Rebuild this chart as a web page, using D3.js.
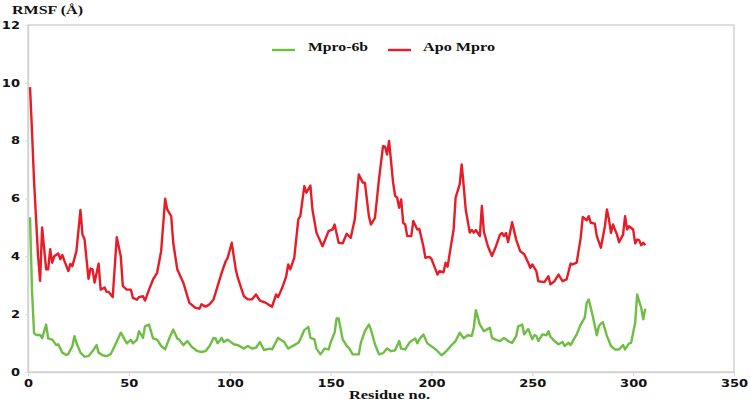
<!DOCTYPE html>
<html>
<head>
<meta charset="utf-8">
<script src="https://cdn.jsdelivr.net/npm/d3@7"></script>
<style>
  body { margin: 0; background: #fff; }
  svg { display: block; }
</style>
</head>
<body>
<div id="chart"></div>
<script>
// RMSF per residue, Apo Mpro vs Mpro-6b
const width = 750;
const height = 403;

const xTicks = [0, 50, 100, 150, 200, 250, 300, 350];
const yTicks = [0, 2, 4, 6, 8, 10, 12];

const seriesNames = ["Mpro-6b", "Apo Mpro"];

const apoResidue = [1,2,3,4,5,6,7,9,10,11,12,13,15,16,17,18,20,21,22,24,26,27,28,30,31,32,33,35,36,38,39,40,42,44,46,47,49,51,52,54,55,57,58,60,62,64,66,68,69,71,72,74,77,80,83,85,86,88,90,92,94,96,98,99,101,103,104,107,109,111,113,115,118,119,121,123,124,126,128,129,130,132,134,135,137,138,140,141,143,146,149,151,152,154,156,158,160,162,164,166,167,169,170,172,174,176,177,178,179,181,182,183,184,185,186,187,188,190,191,193,194,196,197,199,200,202,203,204,206,207,208,209,211,212,214,215,216,217,219,220,221,222,224,225,226,228,230,232,234,235,236,237,238,240,242,244,246,248,249,250,252,253,256,258,259,261,263,265,267,269,270,272,274,275,277,278,279,281,282,284,286,287,288,289,290,292,293,295,296,297,298,300,301,302,303,304,305,306];
const apoRmsf = [9.85,8.3,6.6,5.3,4.0,3.15,5.0,3.55,3.55,4.25,3.78,4.0,4.1,3.9,4.05,3.85,3.49,3.74,3.66,4.18,5.6,4.75,4.6,3.22,3.58,3.55,3.09,3.75,2.85,2.92,2.77,2.77,2.59,4.66,4.0,2.97,2.85,2.85,2.56,2.5,2.59,2.62,2.47,2.85,3.2,3.43,4.18,5.99,5.62,5.39,4.47,3.55,3.09,2.39,2.22,2.19,2.34,2.26,2.34,2.51,2.97,3.43,3.83,3.95,4.47,3.55,3.26,2.62,2.51,2.51,2.68,2.47,2.39,2.34,2.26,2.68,2.59,2.91,3.31,3.72,3.55,3.95,5.28,5.39,6.43,6.2,6.45,5.62,4.82,4.35,4.87,4.93,5.1,4.47,4.45,4.78,4.64,5.28,6.83,6.55,6.55,5.39,5.1,5.33,6.66,7.81,7.79,7.52,7.99,6.55,6.09,6.03,5.68,5.97,5.16,5.1,4.7,4.7,5.22,4.93,4.95,4.35,3.95,3.98,3.91,3.55,3.37,3.49,3.45,3.78,3.64,4.07,4.93,6.03,6.49,7.18,6.43,5.62,4.82,4.91,4.82,4.91,4.7,5.74,4.85,4.35,4.01,4.35,4.75,4.81,4.7,4.81,4.49,5.18,4.58,4.18,4.07,3.78,3.6,3.72,3.49,3.14,3.11,3.31,3.03,3.14,3.37,3.14,3.2,3.75,3.72,3.78,4.64,5.36,5.25,5.39,5.16,5.13,4.7,4.3,5.04,5.62,5.28,4.81,5.1,4.75,4.49,4.75,5.39,4.93,5.04,4.93,4.45,4.58,4.56,4.38,4.47,4.38];

const ligResidue = [1,2,3,4,6,7,9,10,12,14,15,17,19,20,22,23,24,26,28,30,32,34,35,37,39,41,43,46,47,49,51,52,54,55,57,58,60,62,64,66,68,70,72,74,75,77,79,81,84,86,88,90,92,93,94,96,97,99,102,104,107,109,111,113,115,117,120,121,124,127,129,132,134,135,137,139,140,142,143,145,147,149,150,152,153,154,156,158,159,161,164,165,167,169,170,172,174,176,178,180,182,184,185,187,189,190,192,193,194,196,198,201,203,205,207,210,212,214,216,218,220,221,222,224,226,228,229,230,232,234,236,238,240,242,243,245,246,248,250,251,252,253,255,257,258,259,261,263,265,266,268,269,271,272,274,276,277,278,280,282,283,284,285,287,289,291,293,295,296,298,299,301,302,304,305,306];
const ligRmsf = [5.35,2.8,1.35,1.28,1.28,1.17,1.64,1.16,1.12,0.93,0.96,0.67,0.59,0.62,0.9,1.24,1.01,0.67,0.53,0.55,0.72,0.93,0.67,0.58,0.55,0.62,0.9,1.36,1.24,0.99,1.11,0.99,1.11,1.41,1.18,1.58,1.64,1.16,1.12,0.9,0.78,1.16,1.47,1.16,1.12,0.93,1.07,0.88,0.72,0.69,0.72,0.9,1.18,1.16,0.99,1.18,1.04,1.12,0.96,0.93,0.81,0.9,0.81,0.84,1.04,0.76,0.81,0.78,1.18,1.04,0.81,0.93,1.01,1.13,1.45,1.56,1.18,1.13,0.81,0.61,0.81,0.78,1.01,1.36,1.85,1.85,1.13,0.9,0.84,0.61,0.61,1.01,1.41,1.64,1.47,0.96,0.61,0.65,0.81,0.72,0.75,1.07,0.81,0.78,1.01,1.07,1.16,0.99,1.13,1.3,0.99,0.84,0.72,0.58,0.69,0.93,1.07,1.36,1.17,1.27,1.25,1.53,2.14,1.64,1.41,1.49,1.53,1.18,1.11,1.07,1.18,1.07,1.01,1.24,1.58,1.64,1.3,1.49,1.13,1.27,1.25,1.07,1.3,1.27,1.41,1.22,1.07,0.96,1.04,0.9,1.01,0.93,1.18,1.3,1.64,1.88,2.39,2.51,1.93,1.27,1.58,1.67,1.72,1.25,0.9,0.78,0.78,0.93,0.78,0.99,1.01,1.7,2.68,2.22,1.82,2.19];

const green = "#6fbe44";
const red = "#e81c26";
const frame = "#d4d4d4";

const margin = { top: 25, right: 16, bottom: 31, left: 28 };

const svg = d3.select("#chart")
  .append("svg")
  .attr("width", width)
  .attr("height", height);

const x = d3.scaleLinear().domain([0, 350]).range([margin.left, width - margin.right]);
const y = d3.scaleLinear().domain([0, 12]).range([height - margin.bottom, margin.top]);

// plot frame
svg.append("rect")
  .attr("x", x(0))
  .attr("y", y(12))
  .attr("width", x(350) - x(0))
  .attr("height", y(0) - y(12))
  .style("fill", "none")
  .style("stroke", frame)
  .style("stroke-width", 1.5);

// axes
const xAxis = svg.append("g")
  .attr("transform", `translate(0,${y(0)})`)
  .call(d3.axisBottom(x).tickValues(xTicks).tickSize(4).tickSizeOuter(0));
xAxis.select(".domain").style("stroke", frame).style("stroke-width", 1.5);
xAxis.selectAll(".tick line").style("stroke", frame);
xAxis.selectAll(".tick text")
  .attr("y", 8)
  .attr("dy", "0.71em")
  .attr("transform", "scale(1.3,1)")
  .style("font-family", "'DejaVu Sans', Verdana, sans-serif")
  .style("font-weight", "bold")
  .style("font-size", "10px")
  .style("fill", "#111");

const yAxis = svg.append("g")
  .attr("transform", `translate(${x(0)},0)`)
  .call(d3.axisLeft(y).tickValues(yTicks).tickSize(3).tickSizeOuter(0));
yAxis.select(".domain").style("stroke", frame).style("stroke-width", 1.5);
yAxis.selectAll(".tick line").style("stroke", "#cfdcea");
yAxis.selectAll(".tick text")
  .attr("x", -6.2)
  .attr("transform", "scale(1.3,1)")
  .style("font-family", "'DejaVu Sans', Verdana, sans-serif")
  .style("font-weight", "bold")
  .style("font-size", "10px")
  .style("fill", "#111");

// lines
const line = d3.line()
  .x(d => x(d[0]))
  .y(d => y(d[1]));

const ligData = ligResidue.map((r, i) => [r, ligRmsf[i]]);
const apoData = apoResidue.map((r, i) => [r, apoRmsf[i]]);

svg.append("path")
  .datum(apoData)
  .attr("d", line)
  .style("fill", "none")
  .style("stroke", red)
  .style("stroke-width", 2.4)
  .style("stroke-linejoin", "round");

svg.append("path")
  .datum(ligData)
  .attr("d", line)
  .style("fill", "none")
  .style("stroke", green)
  .style("stroke-width", 2.4)
  .style("stroke-linejoin", "round");

// titles
const serif = "'Liberation Serif', 'Times New Roman', serif";

svg.append("text")
  .attr("x", 12)
  .attr("y", 14)
  .attr("textLength", 71)
  .attr("lengthAdjust", "spacingAndGlyphs")
  .style("font-family", serif)
  .style("font-weight", "bold")
  .style("font-size", "12.5px")
  .style("fill", "#111")
  .text("RMSF (Å)");

svg.append("text")
  .attr("x", 349)
  .attr("y", 399)
  .attr("textLength", 81)
  .attr("lengthAdjust", "spacingAndGlyphs")
  .style("font-family", serif)
  .style("font-weight", "bold")
  .style("font-size", "12.5px")
  .style("fill", "#111")
  .text("Residue no.");

// legend
const legend = [
  { name: seriesNames[0], color: green, x1: 272, x2: 295, tx: 308, tw: 60 },
  { name: seriesNames[1], color: red, x1: 388, x2: 411, tx: 423, tw: 72 }
];

legend.forEach(d => {
  svg.append("line")
    .attr("x1", d.x1).attr("x2", d.x2)
    .attr("y1", 50).attr("y2", 50)
    .style("stroke", d.color)
    .style("stroke-width", 2.4);
  svg.append("text")
    .attr("x", d.tx)
    .attr("y", 51)
    .attr("textLength", d.tw)
    .attr("lengthAdjust", "spacingAndGlyphs")
    .style("font-family", serif)
    .style("font-weight", "bold")
    .style("font-size", "12.5px")
    .style("fill", "#111")
    .text(d.name);
});
</script>
</body>
</html>
